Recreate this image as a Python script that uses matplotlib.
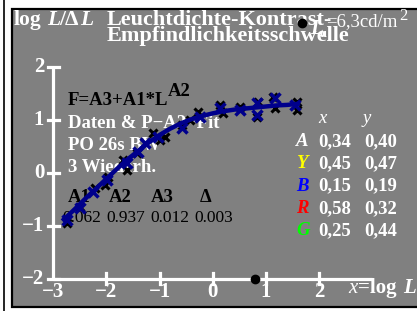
import matplotlib
matplotlib.use("Agg")
import matplotlib.pyplot as plt
from matplotlib.patches import Rectangle
from matplotlib.lines import Line2D

plt.rcParams['font.family'] = ['Liberation Serif', 'DejaVu Serif']

# fitted curve
curve_x = [-2.8, -2.6, -2.4, -2.2, -2.0, -1.8, -1.6, -1.4, -1.2, -1.0, -0.8, -0.6,
           -0.4, -0.2, 0.0, 0.2, 0.4, 0.6, 0.8, 1.0, 1.2, 1.4, 1.6]
curve_y = [-0.88, -0.69, -0.49, -0.30, -0.11, 0.08, 0.26, 0.42, 0.58, 0.72, 0.84, 0.94,
           1.02, 1.08, 1.13, 1.17, 1.20, 1.22, 1.24, 1.26, 1.28, 1.29, 1.31]

# fit points (blue) and measured repeats (black)
fit_x = [-2.74, -2.50, -2.25, -1.99, -1.61, -1.40, -1.27, -1.03, -0.58, -0.24,
         0.14, 0.51, 0.83, 0.83, 1.17, 1.55]
fit_y = [-0.89, -0.66, -0.36, -0.13, 0.19, 0.40, 0.57, 0.68, 0.85, 1.06,
         1.23, 1.19, 1.33, 1.10, 1.42, 1.29]
dat_x = [-2.74, -2.50, -2.21, -2.03, -1.97, -1.69, -1.61, -1.42, -1.12, -0.99, -0.90,
         -0.58, -0.43, -0.28, 0.14, 0.19, 0.51, 0.85, 0.83, 1.13, 1.17, 1.58, 1.58]
dat_y = [-0.95, -0.64, -0.28, -0.23, -0.08, 0.25, 0.06, 0.38, 0.76, 0.63, 0.68,
         0.91, 1.00, 1.16, 1.29, 1.14, 1.25, 1.34, 1.06, 1.44, 1.23, 1.34, 1.19]

x_ticks = [-3, -2, -1, 0, 1, 2]
y_ticks = [-2, -1, 0, 1, 2]
par_names = ['A1', 'A2', 'A3', 'Δ']
par_vals = ['0.062', '0.937', '0.012', '0.003']
row_names = ['A', 'Y', 'B', 'R', 'G']
row_cols = ['white', '#ffff00', '#0000ff', '#ff0000', '#00ff00']
row_x = ['0,34', '0,45', '0,15', '0,58', '0,25']
row_y = ['0,40', '0,47', '0,19', '0,32', '0,44']

W, H = 417, 311
fig = plt.figure(figsize=(W / 100, H / 100), dpi=100)
fig.patch.set_facecolor('white')

# panel
fig.patches.append(Rectangle((12 / W, 1 - 307 / H), (W - 12) / W + 0.01, (307 - 9) / H,
                             transform=fig.transFigure, facecolor='#808080',
                             edgecolor='black', lw=1.6, zorder=-5))
fig.lines.append(Line2D([3.5 / W, 3.5 / W], [0, 1], transform=fig.transFigure,
                        color='black', lw=1.2, zorder=-5))

ax = fig.add_axes([0, 0, 1, 1], zorder=1)
ax.set_xlim(-4, W / 53.2 - 4)
ax.set_ylim(-(H - 173) / 52.8, 173 / 52.8)
ax.axis('off')
ax.patch.set_visible(False)

def T(px, py, s, **kw):
    kw.setdefault('fontweight', 'bold')
    kw.setdefault('color', 'white')
    kw.setdefault('fontsize', 13.5)
    ax.text(px / W, 1 - py / H, s, va='baseline', transform=ax.transAxes, zorder=3, **kw)

# axes
ax.plot([-3, -3], [-2, 2], color='white', lw=2.3, solid_capstyle='butt', zorder=2)
ax.plot([-3, 3], [-2, -2], color='white', lw=2.3, solid_capstyle='butt', zorder=2)
for t in y_ticks:
    ax.plot([-3.1, -2.9], [t, t], color='white', lw=2.3, zorder=2)
    ax.text(-3.17, t, '−%d' % -t if t < 0 else str(t), color='white', fontsize=15,
            fontweight='bold', ha='right', va='center')
for t in x_ticks:
    if t != -3:
        ax.plot([t, t], [-1.9, -2.1], color='white', lw=2.3, zorder=2)
    ax.text(t, -2.06, '−%d' % -t if t < 0 else str(t), color='white', fontsize=15,
            fontweight='bold', ha='center', va='top')

# title
T(14, 25, 'log', fontsize=15.5)
T(47, 25, 'L', fontsize=15.5, fontstyle='italic')
T(59, 25, '/Δ', fontsize=15.5)
T(80, 25, 'L', fontsize=15.5, fontstyle='italic')
T(107, 25, 'Leuchtdichte-Kontrast-', fontsize=16)
T(107, 41, 'Empfindlichkeitsschwelle', fontsize=16)
T(310, 34, 'L', fontsize=15, fontstyle='italic')
T(320, 37, 'u', fontsize=9)
T(326, 26, '=6,3cd/m', fontsize=13.5, fontweight='normal')
T(399, 20, '2', fontsize=12, fontweight='normal')
ax.plot([302 / W], [1 - 23 / H], 'o', color='black', markersize=6,
        transform=ax.transAxes, zorder=4)

# text block
T(68, 105, 'F=A3+A1*L', color='black')
T(168, 96, 'A2', color='black')
T(68, 128, 'Daten & P−A2−Fit')
T(68, 150, 'PO 26s BW')
T(68, 172, '3 Wiederh.')
for i, (n, v) in enumerate(zip(par_names, par_vals)):
    T([68, 109, 151, 200][i], 202, n, color='black')
    T(62 + 44 * i, 222, v, color='black', fontweight='normal', fontsize=12.5)

# colour table
T(318, 123, 'x', fontstyle='italic', fontweight='normal')
T(363, 123, 'y', fontstyle='italic', fontweight='normal')
for i in range(5):
    by = 146 + 22.3 * i
    T(296, by, row_names[i], color=row_cols[i], fontstyle='italic')
    T(318, by, row_x[i])
    T(364, by, row_y[i])

T(348, 293, 'x', fontsize=15, fontstyle='italic', fontweight='normal')
T(358, 293, '=log', fontsize=15)
T(403, 293, 'L', fontsize=15, fontstyle='italic')

# data
ax.plot(dat_x, dat_y, 'x', color='black', markersize=5.5, mew=2.2, zorder=4)
ax.plot(curve_x, curve_y, color='#00008c', lw=3.2, zorder=5)
ax.plot(fit_x, fit_y, 'x', color='#00008c', markersize=7, mew=2.5, zorder=6)
ax.plot([0.79], [-2], 'o', color='black', markersize=6, zorder=6)

fig.savefig('out.png', dpi=100, facecolor='white')
